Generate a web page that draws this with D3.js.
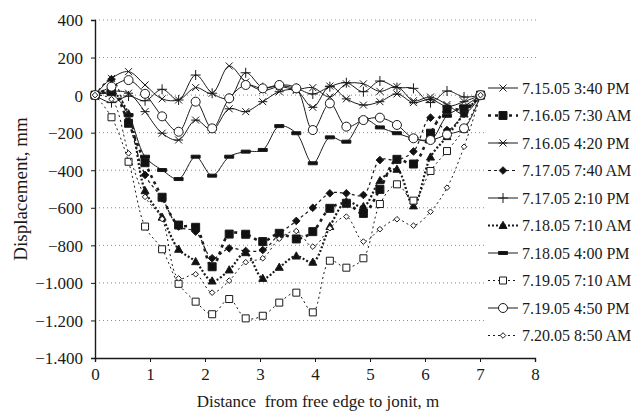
<!DOCTYPE html>
<html>
<head>
<meta charset="utf-8">
<script src="https://cdn.jsdelivr.net/npm/d3@7"></script>
<style>
  body { margin: 0; background: #fff; }
  text { font-family: "Liberation Serif", "Times New Roman", serif; fill: #1a1a1a; }
</style>
</head>
<body>
<div id="chart"></div>
<script>
// distance from free edge (m), one gauge every foot
let distance = [0, 0.30, 0.61, 0.91, 1.22, 1.52, 1.83, 2.13, 2.44, 2.74, 3.05, 3.35,
                3.66, 3.96, 4.27, 4.57, 4.88, 5.18, 5.49, 5.79, 6.10, 6.40, 6.71, 7.01];

// displacement readings, mm
let s0715pm = [0, 89, 125, 54, -20, -26, 40, 10, 155, 70, 25, 45, 30, 40, -10, 60, 60, 20, 45, -30, -10, -50, -100, 0];
let s0716am = [0, 27, -150, -360, -544, -692, -704, -914, -740, -741, -780, -736, -766, -727, -603, -576, -630, -502, -342, -367, -203, -76, -76, 0];
let s0716pm = [0, 20, 10, -88, -203, -239, -133, -186, -73, -88, -35, 18, 25, -65, 48, -20, -53, -35, 6, -40, -22, -60, -35, 0];
let s0717am = [0, 85, -140, -425, -550, -700, -727, -869, -816, -830, -825, -741, -670, -600, -523, -523, -532, -346, -345, -300, -120, -186, -100, 0];
let s0717pm = [0, -40, -5, -30, 31, -26, 107, 10, -17, 119, 40, 50, 36, 6, 45, 66, 18, 75, 40, 36, -40, 22, -10, 0];
let s0718am = [0, 20, -100, -509, -650, -821, -887, -990, -931, -839, -976, -917, -857, -890, -700, -568, -594, -456, -395, -590, -330, -221, -100, 0];
let s0718pm = [0, 5, -106, -328, -399, -447, -328, -429, -328, -301, -292, -165, -203, -363, -225, -248, -129, -172, -203, -230, -240, -110, -60, 0];
let s0719am = [0, -118, -355, -700, -821, -1005, -1100, -1167, -1086, -1189, -1175, -1105, -1052, -1157, -882, -919, -869, -580, -475, -562, -404, -298, -180, 0];
let s0719pm = [0, 45, 80, 7, -113, -195, -35, -177, -17, 54, 36, 54, 36, -186, -44, -168, -133, -120, -159, -230, -239, -210, -177, 0];
let s0720am = [0, -22, -310, -542, -660, -976, -954, -1052, -988, -890, -869, -765, -724, -807, -709, -647, -780, -714, -661, -695, -621, -493, -275, 0];

let seriesNames = ["7.15.05 3:40 PM", "7.16.05 7:30 AM", "7.16.05 4:20 PM", "7.17.05 7:40 AM",
                   "7.17.05 2:10 PM", "7.18.05 7:10 AM", "7.18.05 4:00 PM", "7.19.05 7:10 AM",
                   "7.19.05 4:50 PM", "7.20.05 8:50 AM"];
let seriesValues = [s0715pm, s0716am, s0716pm, s0717am, s0717pm, s0718am, s0718pm, s0719am, s0719pm, s0720am];

let yTicks = [400, 200, 0, -200, -400, -600, -800, -1000, -1200, -1400];
let xTicks = [0, 1, 2, 3, 4, 5, 6, 7, 8];

// look of each series: marker, dash, line width
let looks = [
  {m: "x",        dash: null,  w: 1},
  {m: "square",   dash: "3,4", w: 2.6},
  {m: "asterisk", dash: null,  w: 1},
  {m: "diamond",  dash: "3,3", w: 1.2},
  {m: "plus",     dash: null,  w: 1},
  {m: "triangle", dash: "2,2", w: 2.2},
  {m: "bar",      dash: null,  w: 1},
  {m: "osquare",  dash: "2,3", w: 1},
  {m: "circle",   dash: null,  w: 1},
  {m: "odiamond", dash: "2,3", w: 1}
];

let width = 636, height = 416;
let margin = {left: 95, right: 101, top: 20, bottom: 58};

let svg = d3.select("#chart").append("svg")
  .attr("width", width)
  .attr("height", height);

let x = d3.scaleLinear().domain([0, 8]).range([margin.left, width - margin.right]);
let y = d3.scaleLinear().domain([-1400, 400]).range([height - margin.bottom, margin.top]);

// GRID
svg.append("g").selectAll("line")
  .data(yTicks.filter(d => d > -1400))
  .enter().append("line")
    .attr("x1", x(0)).attr("x2", x(8) + 2)
    .attr("y1", d => y(d)).attr("y2", d => y(d))
    .attr("stroke", "#8a8a8a")
    .attr("stroke-width", 1)
    .attr("stroke-dasharray", "1,3");

// AXES
let fmt = d => (d < 0 ? "\u2212" : "") + (Math.abs(d) >= 1000 ? d3.format(",")(Math.abs(d)).replace(",", ".") : Math.abs(d));

let yAxis = svg.append("g")
  .attr("transform", "translate(" + x(0) + ",0)")
  .call(d3.axisLeft(y).tickValues(yTicks).tickSize(4).tickPadding(8).tickFormat(fmt));
let xAxis = svg.append("g")
  .attr("transform", "translate(0," + y(-1400) + ")")
  .call(d3.axisBottom(x).tickValues(xTicks).tickSize(4).tickPadding(6).tickFormat(d3.format("d")));

[yAxis, xAxis].forEach(a => {
  a.attr("font-family", null);
  a.select(".domain").attr("stroke", "#1a1a1a").attr("stroke-width", 1.4);
  a.selectAll(".tick line").attr("stroke", "#1a1a1a");
  a.selectAll("text").style("font-size", "17px").attr("fill", "#1a1a1a");
});
yAxis.selectAll("text").attr("dy", "0.35em");

// AXIS TITLES
svg.append("text")
  .attr("transform", "translate(27," + y(-500) + ") rotate(-90)")
  .attr("text-anchor", "middle")
  .style("font-size", "19px")
  .text("Displacement, mm");
svg.append("text")
  .attr("x", 318).attr("y", 407)
  .attr("text-anchor", "middle")
  .style("font-size", "17px")
  .style("white-space", "pre")
  .text("Distance  from free edge to jonit, m");

// MARKERS
function markerPath(type) {
  switch (type) {
    case "x": return "M-3.5,-3.5L3.5,3.5M-3.5,3.5L3.5,-3.5";
    case "asterisk": return "M-3.5,-3.5L3.5,3.5M-3.5,3.5L3.5,-3.5M-4.5,0L4.5,0";
    case "plus": return "M-5,0L5,0M0,-5L0,5";
    case "square": return "M-4,-4H4V4H-4Z";
    case "osquare": return "M-3.5,-3.5H3.5V3.5H-3.5Z";
    case "diamond": return "M0,-3.8L3.8,0L0,3.8L-3.8,0Z";
    case "odiamond": return "M0,-2.8L2.8,0L0,2.8L-2.8,0Z";
    case "triangle": return "M0,-4.2L4,3L-4,3Z";
    case "bar": return "M-4.5,-1.5H4.5V1.5H-4.5Z";
    case "circle": return "M-4.5,0A4.5,4.5 0 1,0 4.5,0A4.5,4.5 0 1,0 -4.5,0Z";
  }
}
function markerFill(type) {
  if (["square", "diamond", "triangle", "bar"].includes(type)) return "#111";
  if (["osquare", "odiamond", "circle"].includes(type)) return "#fff";
  return "none";
}

let line = d3.line()
  .x((d, i) => x(distance[i]))
  .y(d => y(d))
  .curve(d3.curveCatmullRom.alpha(0.5));

// LINES
let series = svg.append("g").selectAll("g.series")
  .data(seriesValues)
  .enter().append("g").classed("series", true);

series.append("path")
  .attr("d", line)
  .attr("fill", "none")
  .attr("stroke", "#1a1a1a")
  .attr("stroke-width", (d, i) => looks[i].w)
  .attr("stroke-dasharray", (d, i) => looks[i].dash);

series.each(function(vals, k) {
  d3.select(this).selectAll("path.mk")
    .data(vals)
    .enter().append("path").classed("mk", true)
      .attr("transform", (d, i) => "translate(" + x(distance[i]) + "," + y(d) + ")")
      .attr("d", markerPath(looks[k].m))
      .attr("fill", markerFill(looks[k].m))
      .attr("stroke", "#1a1a1a")
      .attr("stroke-width", 1);
});

// LEGEND
let legend = svg.append("g");
legend.append("rect")
  .attr("x", 487).attr("y", 72)
  .attr("width", width - 487).attr("height", 280)
  .attr("fill", "#fff");

let items = legend.selectAll("g.item")
  .data(seriesNames)
  .enter().append("g").classed("item", true)
    .attr("transform", (d, i) => "translate(0," + (88 + i * 27.5) + ")");
items.append("line")
  .attr("x1", 488).attr("x2", 518)
  .attr("stroke", "#1a1a1a")
  .attr("stroke-width", (d, i) => looks[i].w)
  .attr("stroke-dasharray", (d, i) => looks[i].dash);
items.append("path")
  .attr("transform", "translate(503,0)")
  .attr("d", (d, i) => markerPath(looks[i].m))
  .attr("fill", (d, i) => markerFill(looks[i].m))
  .attr("stroke", "#1a1a1a");
items.append("text")
  .attr("x", 522).attr("dy", "0.35em")
  .style("font-size", "16px")
  .text(d => d);
</script>
</body>
</html>
